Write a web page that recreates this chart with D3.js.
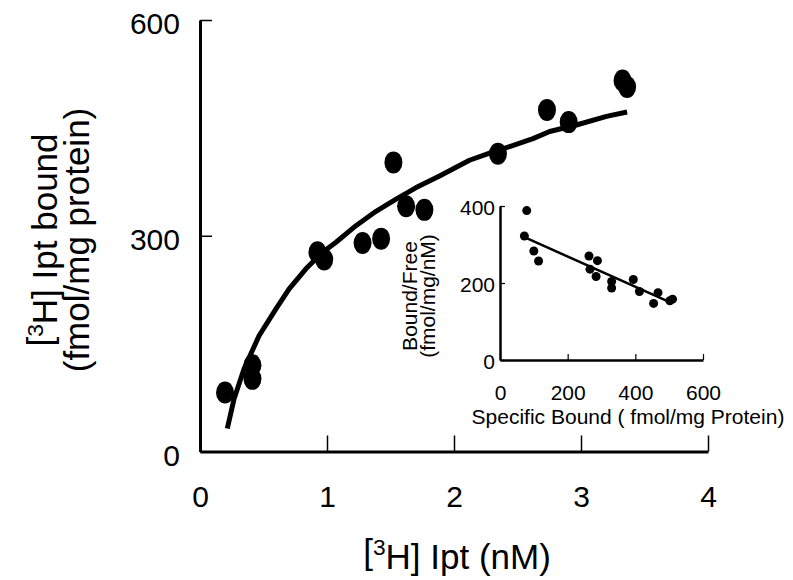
<!DOCTYPE html>
<html>
<head>
<meta charset="utf-8">
<script src="https://cdn.jsdelivr.net/npm/d3@7"></script>
<style>
  body { margin: 0; background: #fff; }
  svg text { font-family: "Liberation Sans", Arial, sans-serif; fill: #000; }
  .axis path, .axis line { stroke: #000; }
</style>
</head>
<body>
<div id="chart"></div>
<script>
// main saturation plot: [3H] Ipt (nM) vs bound (fmol/mg protein)
const satX = [0.197, 0.413, 0.413, 0.925, 0.978, 1.28, 1.426, 1.523, 1.623, 1.767, 2.346, 2.732, 2.903, 3.327, 3.363];
const satY = [82, 120, 101, 277, 267, 290, 296, 402, 341, 336, 414, 475, 458, 516, 507];

// fitted curve as drawn
const curveX = [0.215, 0.268, 0.347, 0.465, 0.597, 0.702, 0.834, 0.965, 1.071, 1.228, 1.386, 1.544, 1.702, 1.886, 2.122, 2.28, 2.438, 2.622, 2.753, 2.964, 3.201, 3.363];
const curveY = [32, 73, 115, 161, 198, 226, 254, 277, 291, 314, 334, 351, 367, 383, 405, 415, 424, 435, 445, 454, 466, 472];

const mainXTicks = [0, 1, 2, 3, 4];
const mainYTicks = [0, 300, 600];

// inset scatchard plot
const scatX = [79, 72, 100, 114, 263, 288, 266, 284, 330, 330, 394, 412, 467, 454, 502, 510];
const scatY = [388, 322, 283, 257, 270, 258, 236, 217, 204, 187, 209, 178, 175, 147, 154, 158];
const regX = [72, 510];
const regY = [319, 147];

const insetXTicks = [0, 200, 400, 600];
const insetYTicks = [0, 200, 400];

const W = 793, H = 580;

const svg = d3.select("#chart").append("svg")
    .attr("width", W)
    .attr("height", H);

svg.append("rect").attr("width", W).attr("height", H).attr("fill", "#fff");

// ---- main chart ----
const x = d3.scaleLinear().domain([0, 4]).range([200, 708]);
const y = d3.scaleLinear().domain([0, 600]).range([451.5, 20]);

const xAxis = svg.append("g")
    .attr("class", "axis")
    .attr("transform", `translate(0,${y(0)})`)
    .call(d3.axisBottom(x).tickValues(mainXTicks).tickFormat(d3.format("d"))
        .tickSizeInner(-16).tickSizeOuter(0).tickPadding(34));
xAxis.select(".domain").attr("stroke-width", 3);
xAxis.selectAll(".tick line").attr("stroke-width", 1.5);
xAxis.selectAll("text").attr("font-size", 30).attr("font-family", null);

const yAxis = svg.append("g")
    .attr("class", "axis")
    .attr("transform", `translate(${x(0)},0)`)
    .call(d3.axisLeft(y).tickValues(mainYTicks).tickFormat(d3.format("d"))
        .tickSizeInner(-12).tickSizeOuter(0).tickPadding(20));
yAxis.select(".domain").attr("stroke-width", 3);
yAxis.selectAll(".tick line").attr("stroke-width", 1.5);
yAxis.selectAll("text").attr("font-size", 30).attr("font-family", null).attr("dy", "0.45em");

// curve
const line = d3.line()
    .x(d => x(d[0]))
    .y(d => y(d[1]));

svg.append("path")
    .datum(d3.zip(curveX, curveY))
    .attr("d", line)
    .attr("fill", "none")
    .attr("stroke", "#000")
    .attr("stroke-width", 5)
    .attr("stroke-linejoin", "round");

svg.append("g").selectAll("ellipse")
    .data(d3.zip(satX, satY))
    .enter().append("ellipse")
    .attr("cx", d => x(d[0]))
    .attr("cy", d => y(d[1]))
    .attr("rx", 9)
    .attr("ry", 11)
    .attr("fill", "#000");

// x axis title
const xt = svg.append("text")
    .attr("x", 457)
    .attr("y", 564)
    .attr("text-anchor", "middle")
    .attr("font-size", 35);
xt.append("tspan").text("[");
xt.append("tspan").attr("dy", "-0.4em").attr("font-size", "65%").text("3");
xt.append("tspan").attr("dy", "0.4em").text("H] Ipt (nM)");

// y axis title
const yt = svg.append("g").attr("transform", "translate(52,240) rotate(-90)");
const yt1 = yt.append("text").attr("text-anchor", "middle").attr("font-size", 35);
yt1.append("tspan").text("[");
yt1.append("tspan").attr("dy", "-0.4em").attr("font-size", "65%").text("3");
yt1.append("tspan").attr("dy", "0.4em").text("H] Ipt bound");
yt.append("text")
    .attr("y", 37)
    .attr("text-anchor", "middle")
    .attr("font-size", 35)
    .text("(fmol/mg protein)");

// ---- inset ----
const xi = d3.scaleLinear().domain([0, 600]).range([500, 703]);
const yi = d3.scaleLinear().domain([0, 400]).range([360, 206]);

const xiAxis = svg.append("g")
    .attr("class", "axis")
    .attr("transform", `translate(0,${yi(0)})`)
    .call(d3.axisBottom(xi).tickValues(insetXTicks).tickFormat(d3.format("d"))
        .tickSizeInner(-6).tickSizeOuter(0).tickPadding(25));
xiAxis.select(".domain").attr("stroke-width", 2.5);
xiAxis.selectAll(".tick line").attr("stroke-width", 1.2);
xiAxis.selectAll("text").attr("font-size", 21).attr("font-family", null);

const yiAxis = svg.append("g")
    .attr("class", "axis")
    .attr("transform", `translate(${xi(0)},0)`)
    .call(d3.axisLeft(yi).tickValues(insetYTicks).tickFormat(d3.format("d"))
        .tickSizeInner(-5).tickSizeOuter(0).tickPadding(5));
yiAxis.select(".domain").attr("stroke-width", 2.5);
yiAxis.selectAll(".tick line").attr("stroke-width", 1.2);
yiAxis.selectAll("text").attr("font-size", 21).attr("font-family", null).attr("dy", "0.4em");

svg.append("path")
    .datum(d3.zip(regX, regY))
    .attr("d", d3.line().x(d => xi(d[0])).y(d => yi(d[1])))
    .attr("stroke", "#000")
    .attr("stroke-width", 2.5)
    .attr("fill", "none");

svg.append("g").selectAll("circle")
    .data(d3.zip(scatX, scatY))
    .enter().append("circle")
    .attr("cx", d => xi(d[0]))
    .attr("cy", d => yi(d[1]))
    .attr("r", 4.5)
    .attr("fill", "#000");

svg.append("text")
    .attr("x", 628)
    .attr("y", 424)
    .attr("text-anchor", "middle")
    .attr("font-size", 21)
    .text("Specific Bound ( fmol/mg Protein)");

const yit = svg.append("g").attr("transform", "translate(417,296) rotate(-90)");
yit.append("text").attr("text-anchor", "middle").attr("font-size", 21).text("Bound/Free");
yit.append("text").attr("y", 18).attr("text-anchor", "middle").attr("font-size", 21).text("(fmol/mg/nM)");
</script>
</body>
</html>
